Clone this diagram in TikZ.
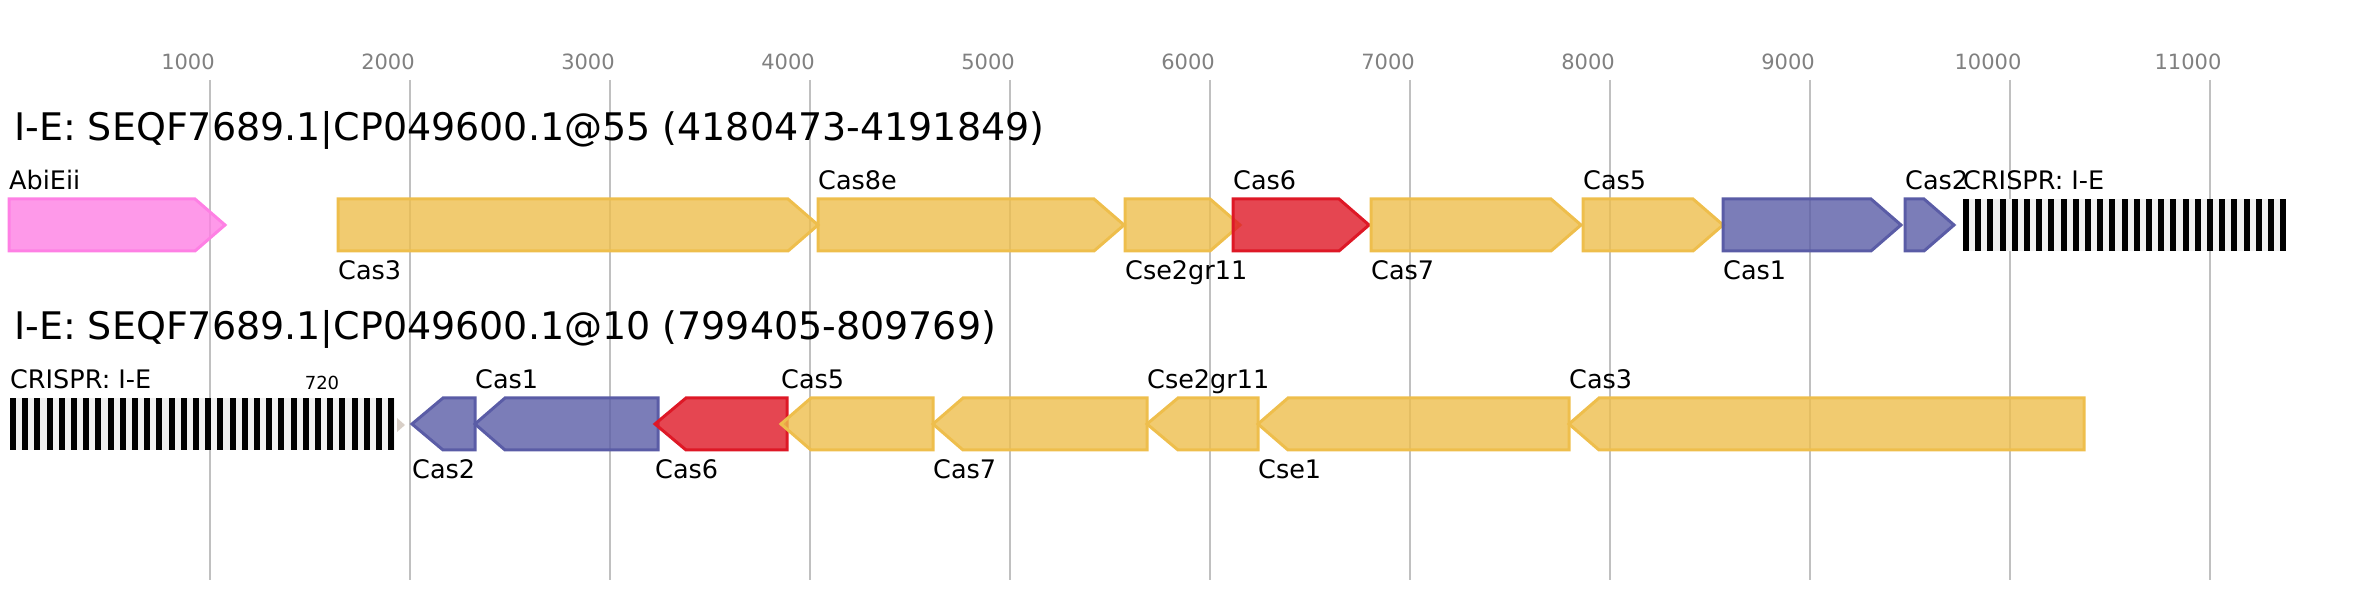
\documentclass[tikz,border=0pt]{standalone}
\usepackage{fontspec}
\setmainfont{DejaVu Sans}
\definecolor{casyellow}{HTML}{EEBE4C}
\definecolor{casred}{HTML}{DE1826}
\definecolor{casblue}{HTML}{5A5CA6}
\definecolor{abipink}{HTML}{FE80E4}
\definecolor{crisprgrey}{HTML}{F0F0F0}
\definecolor{tickgrey}{HTML}{C0C0C0}
\definecolor{ticktext}{HTML}{808080}
\definecolor{endgrey}{HTML}{D8CFC7}
\begin{document}
\begin{tikzpicture}[line join=miter,
  gene/.style={line width=3bp,fill opacity=0.8},
  yellowgene/.style={gene,draw=casyellow,fill=casyellow},
  redgene/.style={gene,draw=casred,fill=casred},
  bluegene/.style={gene,draw=casblue,fill=casblue},
  pinkgene/.style={gene,draw=abipink,fill=abipink},
  genelabel/.style={anchor=base west,inner sep=0pt,font=\fontsize{25.5bp}{28bp}\selectfont},
  titlelabel/.style={anchor=base west,inner sep=0pt,font=\fontsize{38bp}{40bp}\selectfont},
  ticklabel/.style={anchor=base,inner sep=0pt,text=ticktext,font=\fontsize{21bp}{23bp}\selectfont},
  countlabel/.style={anchor=base,inner sep=0pt,font=\fontsize{18bp}{20bp}\selectfont},
]
\useasboundingbox (0bp,0bp) rectangle (2375bp,600bp);
%% scale
\foreach \k in {1,...,11} {
  \draw [tickgrey,line width=2bp] ({10bp+\k*200bp},520bp) -- ({10bp+\k*200bp},20bp);
  \node (tick_\k) at ({\k*200bp-12bp},530bp) [ticklabel] {\k000};
}
%% first locus
\node (title_top) at (14bp,459bp) [titlelabel] {I-E: SEQF7689.1|CP049600.1@55 (4180473-4191849)};
\draw [pinkgene] (9bp,349bp) -- (195bp,349bp) -- (225bp,375bp) -- (195bp,401bp) -- (9bp,401bp) -- cycle;
\draw [yellowgene] (338bp,349bp) -- (788bp,349bp) -- (818bp,375bp) -- (788bp,401bp) -- (338bp,401bp) -- cycle;
\draw [yellowgene] (818bp,349bp) -- (1094bp,349bp) -- (1124bp,375bp) -- (1094bp,401bp) -- (818bp,401bp) -- cycle;
\draw [yellowgene] (1125bp,349bp) -- (1210bp,349bp) -- (1240bp,375bp) -- (1210bp,401bp) -- (1125bp,401bp) -- cycle;
\draw [redgene] (1233bp,349bp) -- (1339bp,349bp) -- (1369bp,375bp) -- (1339bp,401bp) -- (1233bp,401bp) -- cycle;
\draw [yellowgene] (1371bp,349bp) -- (1551bp,349bp) -- (1581bp,375bp) -- (1551bp,401bp) -- (1371bp,401bp) -- cycle;
\draw [yellowgene] (1583bp,349bp) -- (1693bp,349bp) -- (1723bp,375bp) -- (1693bp,401bp) -- (1583bp,401bp) -- cycle;
\draw [bluegene] (1723bp,349bp) -- (1871bp,349bp) -- (1901bp,375bp) -- (1871bp,401bp) -- (1723bp,401bp) -- cycle;
\draw [bluegene] (1905bp,349bp) -- (1924bp,349bp) -- (1954bp,375bp) -- (1924bp,401bp) -- (1905bp,401bp) -- cycle;
\fill [crisprgrey] (1963bp,349bp) rectangle (2286bp,401bp);
\foreach \i in {0,...,26}
  \fill [black] ({1963bp+\i*12.2bp},349bp) rectangle ({1969bp+\i*12.2bp},401bp);
\node (lab_abieii) at (9bp,410bp) [genelabel] {AbiEii};
\node (lab_cas3_top) at (338bp,320bp) [genelabel] {Cas3};
\node (lab_cas8e) at (818bp,410bp) [genelabel] {Cas8e};
\node (lab_cse2_top) at (1125bp,320bp) [genelabel] {Cse2gr11};
\node (lab_cas6_top) at (1233bp,410bp) [genelabel] {Cas6};
\node (lab_cas7_top) at (1371bp,320bp) [genelabel] {Cas7};
\node (lab_cas5_top) at (1583bp,410bp) [genelabel] {Cas5};
\node (lab_cas1_top) at (1723bp,320bp) [genelabel] {Cas1};
\node (lab_cas2_top) at (1905bp,410bp) [genelabel] {Cas2};
\node (lab_crispr_top) at (1963bp,410bp) [genelabel] {CRISPR: I-E};
%% second locus
\node (title_bottom) at (14bp,260bp) [titlelabel] {I-E: SEQF7689.1|CP049600.1@10 (799405-809769)};
\fill [crisprgrey] (10bp,150bp) rectangle (395bp,202bp);
\foreach \i in {0,...,31}
  \fill [black] ({10bp+\i*12.2bp},150bp) rectangle ({16bp+\i*12.2bp},202bp);
\fill [endgrey] (397bp,182bp) -- (405bp,175bp) -- (397bp,168bp) -- cycle;
\draw [bluegene] (475bp,150bp) -- (443bp,150bp) -- (412bp,176bp) -- (443bp,202bp) -- (475bp,202bp) -- cycle;
\draw [bluegene] (658bp,150bp) -- (505bp,150bp) -- (475bp,176bp) -- (505bp,202bp) -- (658bp,202bp) -- cycle;
\draw [redgene] (787bp,150bp) -- (686bp,150bp) -- (655bp,176bp) -- (686bp,202bp) -- (787bp,202bp) -- cycle;
\draw [yellowgene] (933bp,150bp) -- (811bp,150bp) -- (781bp,176bp) -- (811bp,202bp) -- (933bp,202bp) -- cycle;
\draw [yellowgene] (1147bp,150bp) -- (963bp,150bp) -- (933bp,176bp) -- (963bp,202bp) -- (1147bp,202bp) -- cycle;
\draw [yellowgene] (1258bp,150bp) -- (1178bp,150bp) -- (1147bp,176bp) -- (1178bp,202bp) -- (1258bp,202bp) -- cycle;
\draw [yellowgene] (1569bp,150bp) -- (1288bp,150bp) -- (1258bp,176bp) -- (1288bp,202bp) -- (1569bp,202bp) -- cycle;
\draw [yellowgene] (2084bp,150bp) -- (1599bp,150bp) -- (1569bp,176bp) -- (1599bp,202bp) -- (2084bp,202bp) -- cycle;
\node (lab_crispr_bottom) at (10bp,211bp) [genelabel] {CRISPR: I-E};
\node (lab_count) at (322bp,210bp) [countlabel] {720};
\node (lab_cas2_bottom) at (412bp,121bp) [genelabel] {Cas2};
\node (lab_cas1_bottom) at (475bp,211bp) [genelabel] {Cas1};
\node (lab_cas6_bottom) at (655bp,121bp) [genelabel] {Cas6};
\node (lab_cas5_bottom) at (781bp,211bp) [genelabel] {Cas5};
\node (lab_cas7_bottom) at (933bp,121bp) [genelabel] {Cas7};
\node (lab_cse2_bottom) at (1147bp,211bp) [genelabel] {Cse2gr11};
\node (lab_cse1) at (1258bp,121bp) [genelabel] {Cse1};
\node (lab_cas3_bottom) at (1569bp,211bp) [genelabel] {Cas3};
%
\end{tikzpicture}
\end{document}
